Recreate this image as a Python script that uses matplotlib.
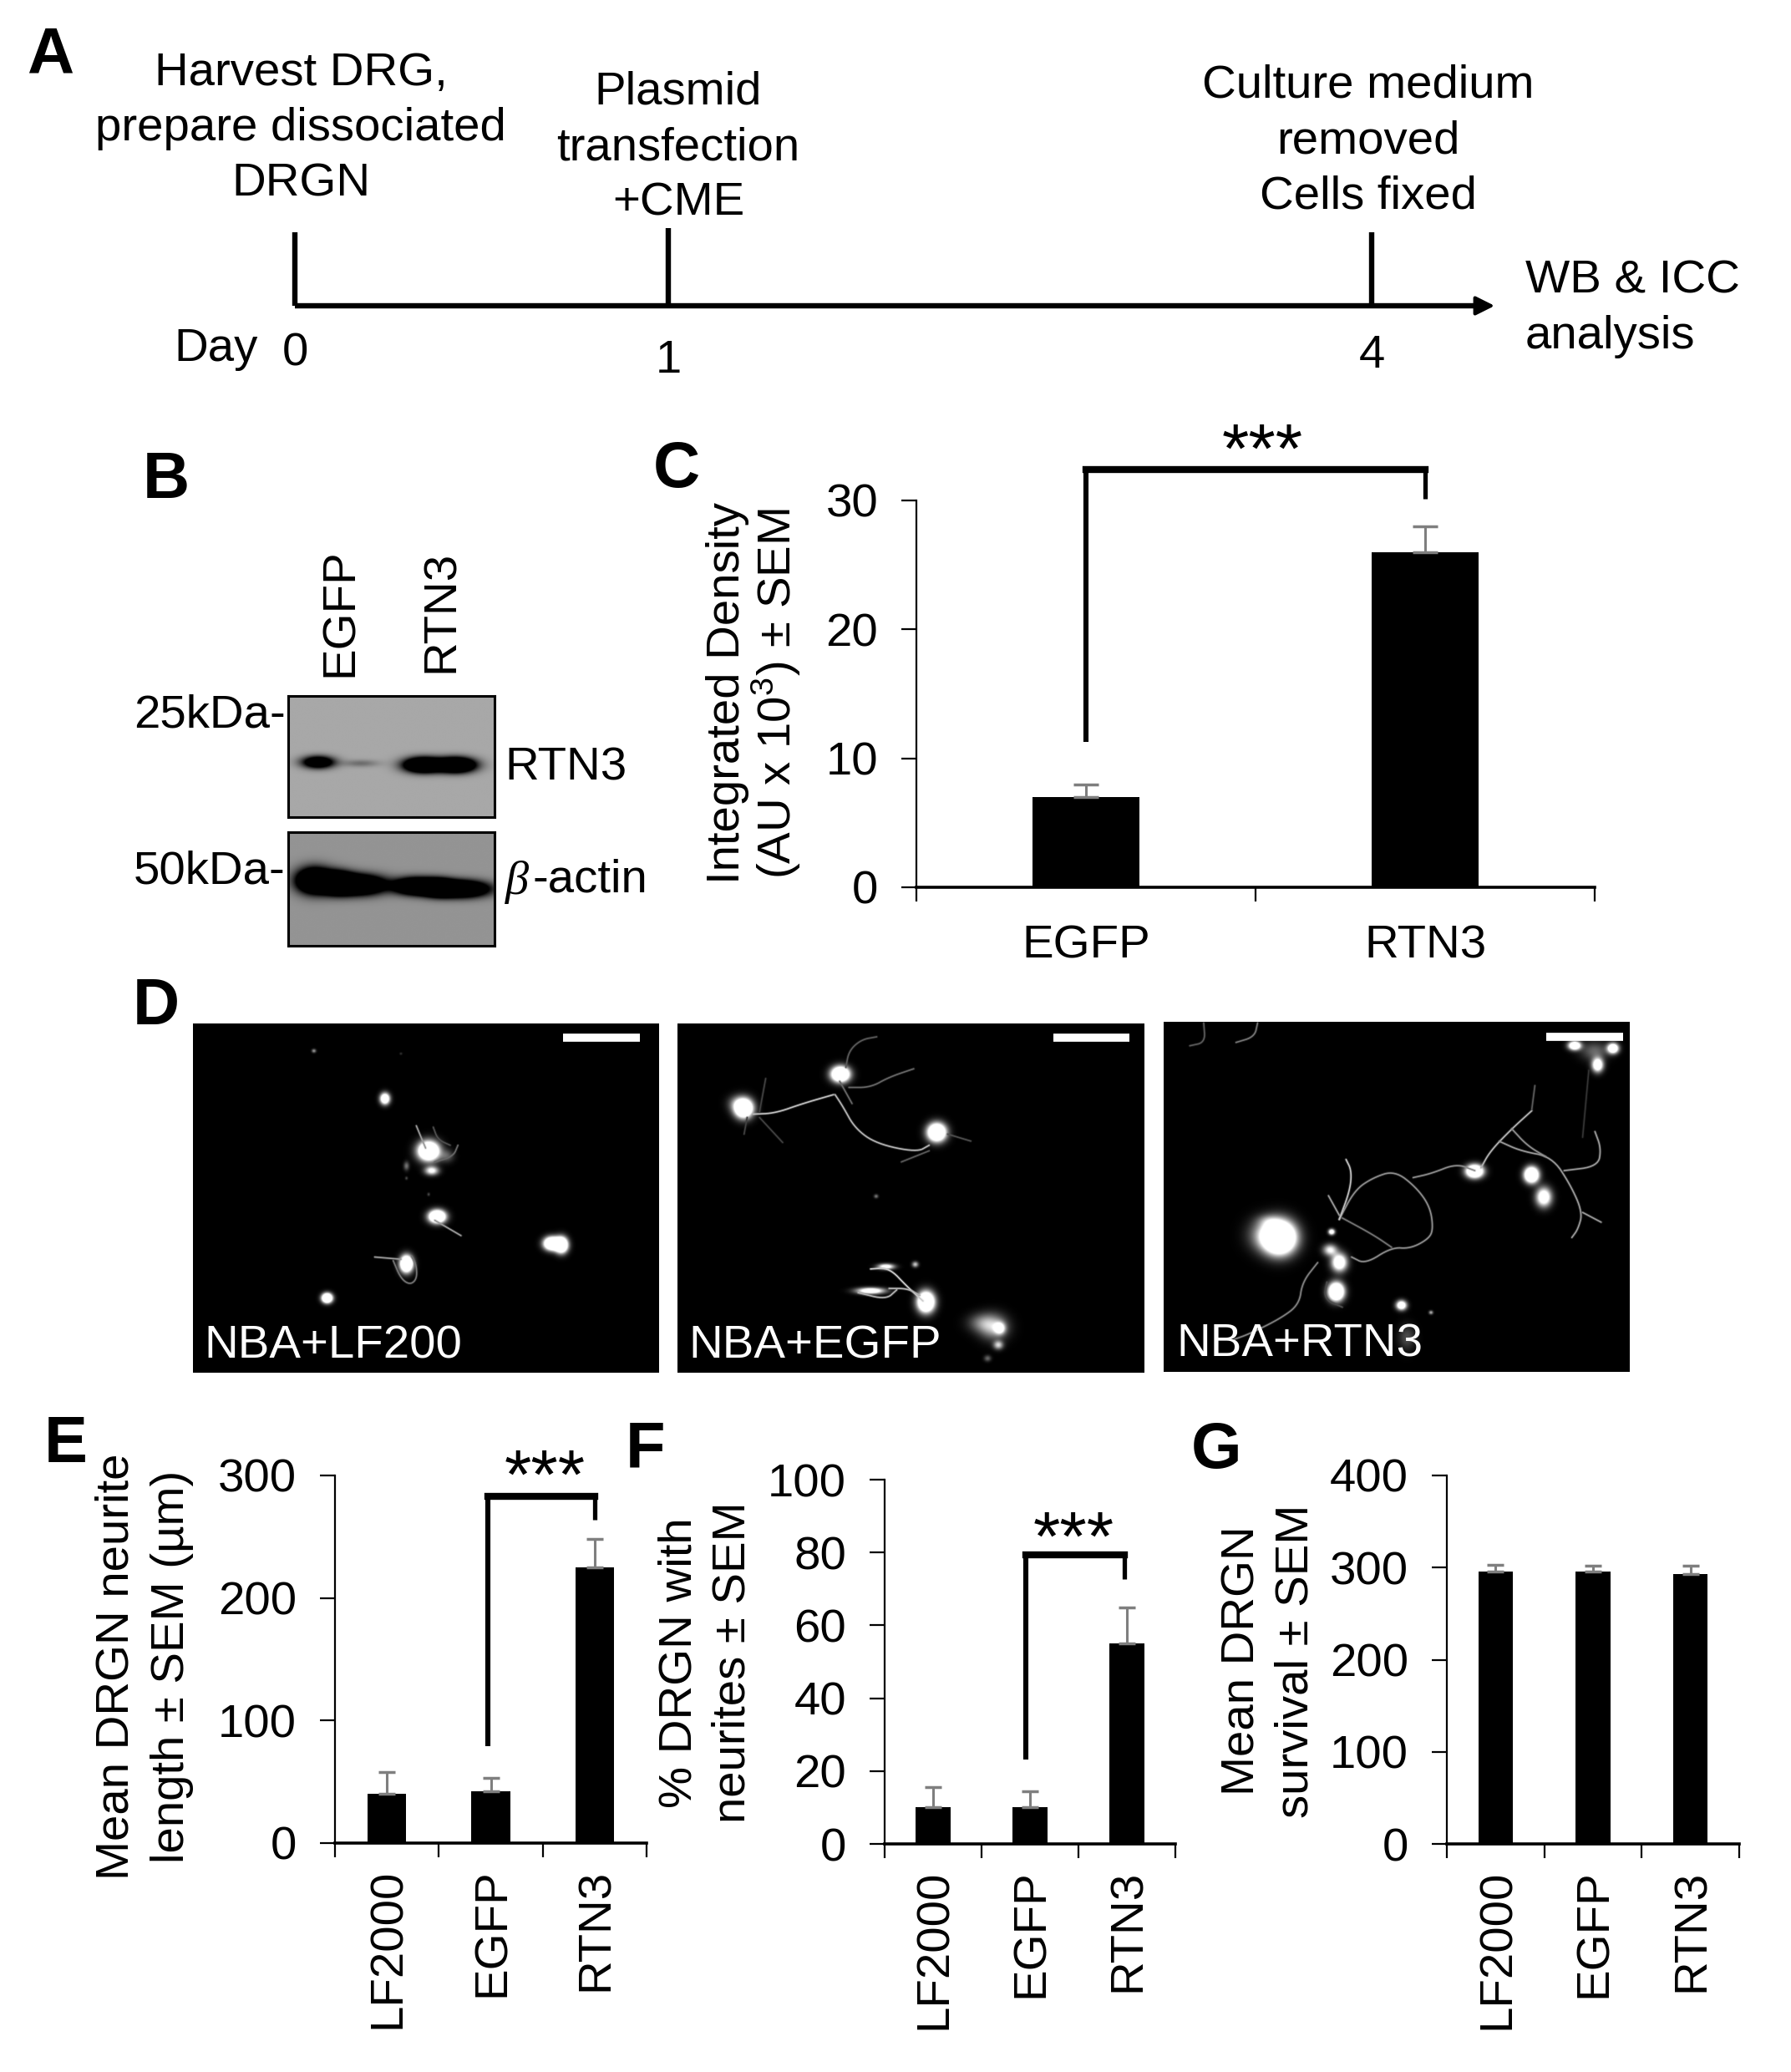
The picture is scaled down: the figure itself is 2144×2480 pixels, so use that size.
"""Multi-panel figure: timeline, blot, bar charts and fluorescence micrographs."""

import numpy as np

import matplotlib
matplotlib.use("Agg")
import matplotlib.pyplot as plt

W, H = 2144, 2480
FS = 40.6
LS = 1.36
plt.rcParams["font.family"] = ["Liberation Sans", "DejaVu Sans"]
plt.rcParams["mathtext.fontset"] = "custom"
plt.rcParams["mathtext.rm"] = "Liberation Sans"
plt.rcParams["mathtext.it"] = "Liberation Sans:italic"

# bar chart values
C_LABELS = ["EGFP", "RTN3"]
C_MEANS = [7, 26]
C_SEM = [1, 2]
C_TICKS = [0, 10, 20, 30]

EFG_LABELS = ["LF2000", "EGFP", "RTN3"]
E_MEANS = [40, 42, 225]
E_SEM = [18, 11, 23]
E_TICKS = [0, 100, 200, 300]

F_MEANS = [10, 10, 55]
F_SEM = [5.5, 4.5, 10]
F_TICKS = [0, 20, 40, 60, 80, 100]

G_MEANS = [296, 296, 293]
G_SEM = [7, 6, 9]
G_TICKS = [0, 100, 200, 300, 400]

# significance brackets: left bar, right bar, top, end of left leg, end of right leg
C_BRACKET = [1, 2, 32.4, 11.3, 30.1]
E_BRACKET = [1.97, 3, 282.7, 78.8, 264]
F_BRACKET = [1.96, 2.97, 79.3, 23.2, 72.8]

# timeline
DAY_X = [353, 800, 1642]
DAY_LABELS = ["0", "1", "4"]
DAY_LABEL_Y = [424, 432, 426]
STEP_TEXT = ["Harvest DRG,\nprepare dissociated\nDRGN",
             "Plasmid\ntransfection\n+CME",
             "Culture medium\nremoved\nCells fixed"]

# blot bands, in the blot's own pixel grid: x, y, sx, sy, darkness
RTN3_BANDS = [(180, 308, 40, 15, 2.0), (335, 312, 45, 9, 0.35),
              (560, 318, 47, 18, 3.0), (680, 318, 47, 18, 3.0)]
ACTIN_BANDS = [(165, 730, 44, 31, 3.0), (250, 738, 40, 26, 3.0), (330, 745, 64, 24, 3.0),
               (530, 750, 50, 20, 3.0), (615, 755, 40, 20, 3.0), (700, 760, 66, 20, 3.0)]

# micrograph cell bodies: x, y, sx, sy, brightness
LF200_BLOBS = [(407, 132, 6, 6, .6), (690, 142, 4, 4, .2), (638, 304, 14, 18, 1.8),
               (780, 492, 30, 30, 2.5), (790, 563, 20, 14, 1.1), (708, 546, 8, 14, .45),
               (708, 590, 4, 5, .3), (780, 648, 4, 5, .3), (808, 728, 24, 20, 2.5),
               (1180, 825, 22, 20, 2.5), (1212, 830, 18, 24, 2.5), (708, 898, 18, 26, 2.5),
               (450, 1021, 15, 15, 2.5), (840, 510, 20, 20, .35)]
EGFP_BLOBS = [(228, 338, 26, 30, 2.5), (200, 320, 25, 25, .3), (542, 216, 26, 24, 2.5),
              (855, 425, 26, 28, 2.5), (658, 655, 6, 6, .5), (785, 900, 9, 9, .8),
              (690, 908, 24, 9, 1.3), (640, 995, 40, 10, 1.5), (820, 1035, 24, 32, 2.5),
              (1040, 1125, 40, 40, .7), (1000, 1110, 40, 30, .4), (1060, 1130, 15, 18, 1),
              (1055, 1190, 14, 14, .8), (1020, 1238, 10, 10, .4)]
RTN3_BLOBS = [(395, 800, 45, 50, 3), (340, 790, 45, 50, .45), (360, 740, 32, 19, .3),
              (565, 780, 9, 9, 1.5),
              (560, 845, 20, 18, 1), (590, 890, 22, 28, 1.6), (580, 995, 22, 28, 2.5),
              (792, 1044, 15, 15, 1.6), (888, 1070, 6, 6, .7), (1030, 562, 24, 20, 2.5),
              (1215, 575, 20, 24, 2.5), (1255, 655, 22, 30, 1.5), (1355, 110, 18, 14, 1.8),
              (1480, 120, 16, 16, 1.8), (1430, 180, 16, 22, 1.6), (1420, 130, 40, 30, .4),
              (810, 1160, 25, 40, .3)]

# micrograph neurites: brightness, then the traced points
LF200_NEURITES = [
    (.6, [(740, 400), (755, 440), (770, 480)]),
    (.3, [(795, 405), (810, 450), (850, 470)]),
    (.6, [(800, 740), (885, 795)]),
    (.6, [(605, 872), (690, 880)]),
    (.45, [(665, 885), (690, 950), (720, 972), (742, 950), (740, 900), (725, 870)]),
    (.4, [(800, 530), (860, 510), (875, 470)]),
]
EGFP_NEURITES = [
    (.75, [(260, 358), (330, 355), (420, 320), (520, 288)]),
    (.7, [(525, 288), (550, 330), (590, 410), (660, 465), (790, 495), (830, 470)]),
    (.4, [(570, 262), (640, 262), (700, 225), (780, 195)]),
    (.35, [(560, 190), (570, 130), (610, 90), (660, 80)]),
    (.4, [(540, 240), (580, 320)]),
    (.8, [(640, 915), (700, 910), (760, 980), (810, 1030)]),
    (.7, [(700, 985), (760, 985), (800, 1010)]),
    (.7, [(600, 1000), (690, 1025), (725, 990)]),
    (.25, [(240, 370), (230, 430)]),
    (.25, [(280, 350), (300, 230)]),
    (.25, [(280, 370), (355, 460)]),
    (.3, [(890, 430), (965, 455)]),
    (.35, [(830, 490), (740, 530)]),
]
RTN3_NEURITES = [
    (.55, [(590, 735), (640, 630), (700, 585), (770, 560), (840, 620), (885, 690), (895, 770),
           (880, 805), (820, 840), (760, 835), (675, 895), (630, 870)]),
    (.55, [(830, 585), (890, 570), (970, 535), (1030, 560)]),
    (.7, [(1050, 550), (1080, 490), (1150, 410), (1215, 345)]),
    (.6, [(1110, 455), (1180, 490), (1280, 510), (1340, 610), (1380, 710), (1365, 770), (1345, 800)]),
    (.55, [(1150, 410), (1200, 470), (1260, 510)]),
    (.6, [(1320, 560), (1430, 545), (1440, 480), (1420, 420)]),
    (.6, [(1380, 710), (1440, 745)]),
    (.35, [(1225, 255), (1215, 340)]),
    (.45, [(600, 730), (700, 790), (760, 835)]),
    (.75, [(590, 735), (625, 630), (630, 560), (612, 520)]),
    (.5, [(520, 890), (470, 960), (460, 1040), (400, 1090), (300, 1145), (250, 1165)]),
    (.35, [(150, 30), (155, 100), (105, 112)]),
    (.45, [(325, 30), (315, 80), (255, 100)]),
    (.2, [(1400, 200), (1380, 440)]),
    (.6, [(555, 650), (590, 720)]),
    (.3, [(550, 960), (540, 1020), (600, 1050)]),
]


def add_axes_px(fig, x0, y0, x1, y1):
    return fig.add_axes([x0 / W, 1 - y1 / H, (x1 - x0) / W, (y1 - y0) / H])


def txt(fig, x, y, s, **kw):
    kw.setdefault("fontsize", FS)
    kw.setdefault("ha", "center")
    kw.setdefault("va", "center")
    return fig.text(x / W, 1 - y / H, s, **kw)


def blob_field(blobs, x0, x1, y0, y1, size=1.0):
    gx, gy = np.meshgrid(np.linspace(x0, x1, 560), np.linspace(y0, y1, 420))
    field = np.zeros_like(gx)
    for x, y, sx, sy, amp in blobs:
        field += amp * np.exp(-0.5 * (((gx - x) / (sx * size)) ** 2 + ((gy - y) / (sy * size)) ** 2))
    return field


def soften(points, rounds=3):
    # corner cutting, so the traced neurites do not look like straight segments
    pts = np.array(points, dtype=float)
    for _ in range(rounds):
        if len(pts) < 3:
            break
        q = 0.75 * pts[:-1] + 0.25 * pts[1:]
        r = 0.25 * pts[:-1] + 0.75 * pts[1:]
        mid = np.empty((2 * len(q), 2))
        mid[0::2], mid[1::2] = q, r
        pts = np.vstack([pts[0], mid, pts[-1]])
    return pts[:, 0], pts[:, 1]


def draw_bars(ax, means, sem, ticks, ymax, width, capsize, bracket=None, star_offset=(0, 0)):
    xs = np.arange(1, len(means) + 1)
    ax.bar(xs, means, width=width, color="black")
    ax.errorbar(xs, means, yerr=[np.zeros(len(sem)), sem], fmt="none", ecolor="#7f7f7f",
                elinewidth=2.2, capsize=capsize, capthick=2.5, clip_on=False)
    ax.set_xlim(0.5, len(means) + 0.5)
    ax.set_ylim(0, ymax)
    ax.patch.set_alpha(0)
    for side in ["top", "right"]:
        ax.spines[side].set_visible(False)
    ax.spines["left"].set_linewidth(1.6)
    ax.spines["bottom"].set_linewidth(2.6)
    ax.set_yticks(ticks)
    ax.set_yticklabels([str(t) for t in ticks], fontsize=FS)
    ax.tick_params(axis="y", length=13, width=1.6, pad=20)
    ax.set_xticks(np.arange(0.5, len(means) + 1))
    ax.set_xticklabels([])
    ax.tick_params(axis="x", which="major", length=12, width=1.6)
    ax.set_xticks(xs, minor=True)
    ax.tick_params(axis="x", which="minor", length=0)
    if bracket:
        left, right, top, left_end, right_end = bracket
        ax.plot([left, right], [top, top], color="black", lw=6, clip_on=False, solid_capstyle="projecting")
        ax.plot([left, left], [top, left_end], color="black", lw=4.4, clip_on=False, solid_capstyle="butt")
        ax.plot([right, right], [top, right_end], color="black", lw=3.8, clip_on=False, solid_capstyle="butt")
        ax.annotate("***", ((left + right) / 2, top), xytext=star_offset, textcoords="offset points",
                    fontsize=60, ha="center", va="bottom", annotation_clip=False)


def draw_blot(fig, rect, bands, bg, extent):
    ax = add_axes_px(fig, *rect)
    x0, x1, y0, y1 = extent
    dark = np.clip(blob_field(bands, x0, x1, y0, y1), 0, 1)
    ax.imshow(bg * (1 - dark), cmap="gray", vmin=0, vmax=1, extent=[x0, x1, y1, y0],
              aspect="auto", interpolation="bilinear")
    ax.set_xticks([])
    ax.set_yticks([])
    for spine in ax.spines.values():
        spine.set_linewidth(2.2)


def draw_micrograph(fig, rect, blobs, neurites, extent, scale_bar, label, label_xy):
    ax = add_axes_px(fig, *rect)
    x0, x1, y0, y1 = extent
    ax.imshow(np.clip(blob_field(blobs, x0, x1, y0, y1, size=0.78), 0, 1), cmap="gray", vmin=0, vmax=1,
              extent=[x0, x1, y1, y0], aspect="auto", interpolation="bilinear")
    for level, points in neurites:
        px, py = soften(points)
        ax.plot(px, py, color=str(level), lw=2.6, alpha=0.25, solid_capstyle="round")
        ax.plot(px, py, color=str(level), lw=1.2, solid_capstyle="round")
    ax.plot(scale_bar[:2], [scale_bar[2]] * 2, color="white", lw=7, solid_capstyle="butt")
    ax.text(label_xy[0], label_xy[1], label, color="white", fontsize=FS, ha="left", va="baseline")
    ax.set_xlim(x0, x1)
    ax.set_ylim(y1, y0)
    ax.axis("off")


def main():
    fig = plt.figure(figsize=(W / 100, H / 100), dpi=100)
    overlay = fig.add_axes([0, 0, 1, 1])
    overlay.set_xlim(0, W)
    overlay.set_ylim(H, 0)
    overlay.axis("off")

    # panel A
    txt(fig, 60, 67, "A", fontsize=56, fontweight="bold")
    line_y = 366
    overlay.plot([DAY_X[0], 1770], [line_y, line_y], color="black", lw=4.6, solid_capstyle="butt")
    overlay.annotate("", xy=(1792, line_y), xytext=(1760, line_y),
                     arrowprops=dict(arrowstyle="-|>", color="black", lw=3, mutation_scale=34))
    for x, top in zip(DAY_X, [278, 273, 278]):
        overlay.plot([x, x], [top, line_y], color="black", lw=4.6, solid_capstyle="butt")
    for x, lab, y in zip(DAY_X, DAY_LABELS, DAY_LABEL_Y):
        txt(fig, x, y, lab)
    txt(fig, 259, 418, "Day")
    for x, y, s in zip([360, 812, 1638], [154, 177, 169], STEP_TEXT):
        txt(fig, x, y, s, linespacing=LS)
    txt(fig, 1826, 370, "WB & ICC\nanalysis", ha="left", linespacing=LS)

    # panel B
    txt(fig, 199, 575, "B", fontsize=56, fontweight="bold")
    txt(fig, 408, 810, "EGFP", rotation=90, va="bottom")
    txt(fig, 529, 805, "RTN3", rotation=90, va="bottom")
    draw_blot(fig, (345, 833, 592, 978), RTN3_BANDS, 0.66, (72, 818, 70, 505))
    draw_blot(fig, (345, 996, 592, 1132), ACTIN_BANDS, 0.58, (72, 818, 555, 965))
    txt(fig, 342, 856, "25kDa-", ha="right")
    txt(fig, 342, 1044, "50kDa-", ha="right")
    txt(fig, 604, 919, "RTN3", ha="left")
    txt(fig, 605, 1056, "\u03b2", ha="left", family="Liberation Serif", style="italic")
    txt(fig, 637, 1054, "-actin", ha="left")

    # panel C
    txt(fig, 810, 562, "C", fontsize=56, fontweight="bold")
    ax_c = add_axes_px(fig, 1097, 599, 1909, 1062)
    draw_bars(ax_c, C_MEANS, C_SEM, C_TICKS, 30, 0.316, 11, C_BRACKET, star_offset=(6, -15))
    for x, lab in zip(ax_c.get_xticks(minor=True), C_LABELS):
        ax_c.annotate(lab, (x, 0), xytext=(0, -51), textcoords="offset points",
                      fontsize=FS, ha="center", va="center", xycoords=("data", "axes fraction"))
    txt(fig, 903, 830, "Integrated Density\n(AU x 10$^{3}$) \u00b1 SEM", rotation=90, linespacing=1.0)

    # panel D
    txt(fig, 187, 1206, "D", fontsize=56, fontweight="bold")
    draw_micrograph(fig, (231, 1225, 789, 1643), LF200_BLOBS, LF200_NEURITES, (15, 1528, 32, 1288),
                    (1215, 1465, 82), "NBA+LF200", (50, 1235))
    draw_micrograph(fig, (811, 1225, 1370, 1643), EGFP_BLOBS, EGFP_NEURITES, (14, 1528, 32, 1288),
                    (1232, 1480, 82), "NBA+EGFP", (50, 1235))
    draw_micrograph(fig, (1393, 1223, 1951, 1642), RTN3_BLOBS, RTN3_NEURITES, (20, 1533, 26, 1282),
                    (1262, 1510, 81), "NBA+RTN3", (62, 1228))

    # panels E, F, G
    txt(fig, 79, 1729, "E", fontsize=56, fontweight="bold")
    txt(fig, 773, 1736, "F", fontsize=56, fontweight="bold")
    txt(fig, 1456, 1737, "G", fontsize=56, fontweight="bold")
    ax_e = add_axes_px(fig, 401, 1766, 774, 2206)
    ax_f = add_axes_px(fig, 1059, 1771, 1407, 2207)
    ax_g = add_axes_px(fig, 1732, 1766, 2082, 2207)
    draw_bars(ax_e, E_MEANS, E_SEM, E_TICKS, 300, 0.37, 7, E_BRACKET, star_offset=(3, -14))
    draw_bars(ax_f, F_MEANS, F_SEM, F_TICKS, 100, 0.355, 7, F_BRACKET, star_offset=(-1, -17))
    draw_bars(ax_g, G_MEANS, G_SEM, G_TICKS, 400, 0.355, 7)
    for ax in (ax_e, ax_f, ax_g):
        for x, lab in zip(ax.get_xticks(minor=True), EFG_LABELS):
            ax.annotate(lab, (x, 0), xytext=(1.5, -22), textcoords="offset points", rotation=90,
                        fontsize=FS, ha="center", va="top", xycoords=("data", "axes fraction"))
    txt(fig, 173, 1995, "Mean DRGN neurite\nlength \u00b1 SEM (\u00b5m)", rotation=90, linespacing=LS)
    txt(fig, 846, 1990, "% DRGN with\nneurites \u00b1 SEM", rotation=90, linespacing=1.3)
    txt(fig, 1520, 1988, "Mean DRGN\nsurvival \u00b1 SEM", rotation=90, linespacing=1.3)

    fig.savefig("out.png", dpi=100)
    plt.close(fig)


if __name__ == "__main__":
    main()
